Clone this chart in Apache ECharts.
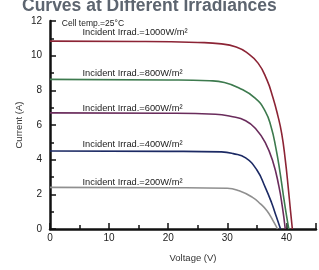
<!DOCTYPE html>
<html>
<head>
<meta charset="utf-8">
<script src="https://cdn.jsdelivr.net/npm/echarts@6/dist/echarts.min.js"></script>
<style>
  html, body { margin: 0; padding: 0; background: #fff; }
  #main { width: 319px; height: 270px; }
</style>
</head>
<body>
<div id="main"></div>
<script>
// [voltage (V), current (A)]
var curve1000 = [[0, 10.84], [15, 10.82], [25, 10.76], [29, 10.68], [31.5, 10.5], [33.2, 10.2], [35.2, 9.57], [36.7, 8.6], [37.7, 7.6], [38.5, 6.6], [39.2, 5.5], [39.8, 4.0], [40.3, 2.4], [40.7, 1.0], [41.0, 0]];
var curve800 = [[0, 8.63], [20, 8.6], [27, 8.55], [29.5, 8.45], [31.9, 8.15], [34.7, 7.55], [36.4, 6.8], [37.4, 5.9], [38.2, 4.7], [38.9, 3.3], [39.5, 1.9], [40.0, 0.8], [40.4, 0]];
var curve600 = [[0, 6.7], [20, 6.68], [28, 6.62], [30.5, 6.5], [33.1, 6.25], [35, 5.7], [36.4, 5.0], [37.7, 3.9], [38.7, 2.5], [39.3, 1.3], [39.8, 0]];
var curve400 = [[0, 4.5], [20, 4.48], [29, 4.45], [31, 4.35], [33.1, 4.1], [35, 3.4], [36.4, 2.42], [37.5, 1.5], [38.3, 0.7], [39.0, 0]];
var curve200 = [[0, 2.4], [20, 2.38], [30, 2.35], [32, 2.2], [34.2, 1.84], [35.6, 1.45], [36.7, 1.05], [37.7, 0.5], [38.5, 0]];

var curveNames = ['Incident Irrad.=1000W/m²', 'Incident Irrad.=800W/m²', 'Incident Irrad.=600W/m²', 'Incident Irrad.=400W/m²', 'Incident Irrad.=200W/m²'];
var curveColors = ['#8c2435', '#3d7a4e', '#6a2c5c', '#1c2a64', '#8f8f8f'];
// where each label sits (V, I)
var labelAt = [[5.5, 11.35], [5.5, 9.0], [5.5, 6.97], [5.5, 4.9], [5.5, 2.71]];
var tempText = 'Cell temp.=25°C';
var tempAt = [2.0, 11.87];

var font = 'Liberation Sans';
var curves = [curve1000, curve800, curve600, curve400, curve200];

var series = curves.map(function (d, i) {
    var marks = [{ coord: labelAt[i], label: { formatter: curveNames[i] } }];
    if (i === 0) marks.push({ coord: tempAt, label: { formatter: tempText, fontSize: 8.5 } });
    return {
        type: 'line',
        data: d,
        smooth: 0.5,
        symbol: 'none',
        lineStyle: { color: curveColors[i], width: 1.6 },
        markPoint: {
            symbol: 'circle',
            symbolSize: 0,
            silent: true,
            label: {
                show: true, position: 'right', distance: 0,
                color: '#222', fontSize: 9.3, fontFamily: font
            },
            data: marks
        }
    };
});

var chart = echarts.init(document.getElementById('main'));
chart.setOption({
    animation: false,
    backgroundColor: '#fff',
    title: {
        text: 'Curves at Different Irradiances',
        left: 17, top: -8,
        textStyle: { fontSize: 17.5, fontWeight: 'bold', color: '#5d6570', fontFamily: font }
    },
    grid: { left: 50, top: 21, bottom: 41, right: -3 },
    xAxis: {
        type: 'value', min: 0, max: 45, interval: 10,
        name: 'Voltage (V)', nameLocation: 'middle', nameGap: 24, nameMoveOverlap: false,
        nameTextStyle: { fontSize: 9.5, color: '#333', fontFamily: font, padding: [0, 0, 0, 20] },
        axisLine: { lineStyle: { color: '#111', width: 2.5 } },
        axisTick: { inside: true, length: 6, lineStyle: { color: '#111', width: 1.5 } },
        minorTick: { show: true, splitNumber: 2, length: 4, lineStyle: { color: '#111', width: 1.5 } },
        splitLine: { show: false },
        axisLabel: {
            fontSize: 10, color: '#222', margin: 4, fontFamily: font,
            formatter: function (v) { return v % 10 === 0 ? v : ''; }
        }
    },
    yAxis: {
        type: 'value', min: 0, max: 12, interval: 2,
        name: 'Current (A)', nameLocation: 'middle', nameGap: 26, nameMoveOverlap: false,
        nameTextStyle: { fontSize: 9.5, color: '#333', fontFamily: font },
        axisLine: { lineStyle: { color: '#111', width: 2.5 } },
        axisTick: { inside: true, length: 6, lineStyle: { color: '#111', width: 1.5 } },
        minorTick: { show: true, splitNumber: 2, length: 4, lineStyle: { color: '#111', width: 1.5 } },
        splitLine: { show: false },
        axisLabel: { fontSize: 10, color: '#222', margin: 8, fontFamily: font }
    },
    series: series
});
</script>
</body>
</html>
